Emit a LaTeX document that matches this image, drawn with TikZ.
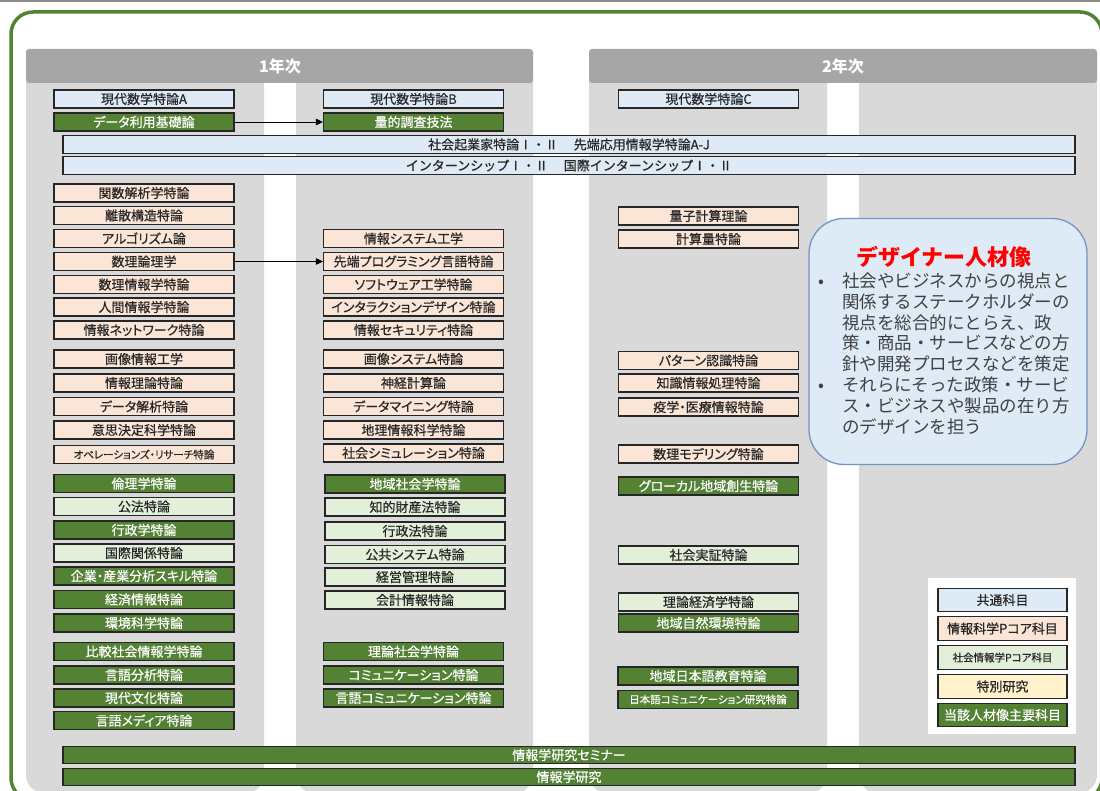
\documentclass[tikz,border=0pt]{standalone}
\usepackage{fontspec}
\setmainfont{Noto Sans CJK JP}[CharacterWidth=AlternateProportional]
\newfontfamily\boxfont{Noto Sans CJK JP}[CharacterWidth=AlternateProportional, FakeBold=0.5]
\newfontfamily\monojp{Noto Sans CJK JP}
\newfontfamily\monobox{Noto Sans CJK JP}[FakeBold=0.5]
\usetikzlibrary{arrows.meta}
\definecolor{cblue}{HTML}{DEEBF7}
\definecolor{cpeach}{HTML}{FBE5D6}
\definecolor{cgreenl}{HTML}{E2F0D9}
\definecolor{cyellow}{HTML}{FFF2CC}
\definecolor{cgreen}{HTML}{548235}
\definecolor{cpanel}{HTML}{D9D9D9}
\definecolor{chead}{HTML}{A6A6A6}
\definecolor{cline}{HTML}{262626}
\definecolor{ctext}{HTML}{262626}
\definecolor{cdes}{HTML}{DEEBF7}
\definecolor{cdesb}{HTML}{7394C4}
\definecolor{cdtext}{HTML}{404040}
\tikzset{
  boxbase/.style={draw=cline, line width=1.1pt, minimum width=180pt, minimum height=18pt,
    inner sep=0pt, text=ctext, font=\boxfont\fontsize{13}{15}\selectfont},
  boxA/.style={boxbase, fill=cblue},
  boxI/.style={boxbase, fill=cpeach},
  boxS/.style={boxbase, fill=cgreenl},
  boxY/.style={boxbase, fill=cyellow},
  boxM/.style={boxbase, fill=cgreen, text=white},
  smalltxt/.style={font=\boxfont\fontsize{10.5}{12}\selectfont},
  barbox/.style={minimum width=1012pt, minimum height=17.5pt},
  monobar/.style={font=\monobox\fontsize{13}{15}\selectfont},
  legbox/.style={minimum width=129pt, minimum height=23.5pt},
  headtxt/.style={text=white, font=\fontsize{16}{18}\selectfont\bfseries},
  desline/.style={anchor=base west, inner sep=0pt, text=cdtext, font=\monojp\fontsize{17.5}{20}\selectfont},
  arr/.style={-{Triangle[length=7pt,width=6.5pt]}, line width=0.9pt, draw=black}
}
\begin{document}
\begin{tikzpicture}[x=1pt,y=-1pt]
\useasboundingbox (0,0) rectangle (1100,791);
\fill[white] (0,0) rectangle (1100,791);
\fill[gray!90] (0,0) rectangle (1100,2.5);
% panels
\fill[cpanel, rounded corners=18pt] (26,60) rectangle (264,793);
\fill[cpanel, rounded corners=18pt] (296,60) rectangle (533,793);
\fill[cpanel, rounded corners=18pt] (589,60) rectangle (827,793);
\fill[cpanel, rounded corners=18pt] (859,60) rectangle (1097,793);
\fill[chead, rounded corners=3pt] (26,49) rectangle (533,83);
\fill[chead, rounded corners=3pt] (589,49) rectangle (1097,83);
\node[headtxt] (h1) at (280,66) {1年次};
\node[headtxt] (h2) at (843,66) {2年次};
% frame
\draw[cgreen, line width=3.5pt, rounded corners=22pt] (11,12) rectangle (1102,800);

% column 1
\node[boxA] (a1) at (144,99) {現代数学特論A};
\node[boxM] (d1) at (144,122) {データ利用基礎論};
\node[boxI] (i1) at (144,193) {関数解析学特論};
\node[boxI] (i2) at (144,215.5) {離散構造特論};
\node[boxI] (i3) at (144,238.5) {アルゴリズム論};
\node[boxI] (s1) at (144,261.5) {数理論理学};
\node[boxI] (i5) at (144,284.5) {数理情報学特論};
\node[boxI] (i6) at (144,307) {人間情報学特論};
\node[boxI] (i7) at (144,330) {情報ネットワーク特論};
\node[boxI] (i8) at (144,359) {画像情報工学};
\node[boxI] (i9) at (144,383) {情報理論特論};
\node[boxI] (i10) at (144,406.5) {データ解析特論};
\node[boxI] (i11) at (144,430) {意思決定科学特論};
\node[boxI, smalltxt] (i12) at (144,454.5) {オペレーションズ・リサーチ特論};
\node[boxM] (m1) at (144,483.5) {倫理学特論};
\node[boxS] (m2) at (144,506.5) {公法特論};
\node[boxM] (m3) at (144,530) {行政学特論};
\node[boxS] (m4) at (144,553) {国際関係特論};
\node[boxM] (m5) at (144,576) {企業・産業分析スキル特論};
\node[boxM] (m6) at (144,599.5) {経済情報特論};
\node[boxM] (m7) at (144,623) {環境科学特論};
\node[boxM] (m8) at (144,651.5) {比較社会情報学特論};
\node[boxM] (m9) at (144,675) {言語分析特論};
\node[boxM] (m10) at (144,698) {現代文化特論};
\node[boxM] (m11) at (144,720.5) {言語メディア特論};

% column 2
\node[boxA] (b1) at (413.5,99) {現代数学特論B};
\node[boxM] (q1) at (413.5,122) {量的調査技法};
\node[boxI] (j1) at (413.5,238.5) {情報システム工学};
\node[boxI] (s2) at (413.5,261.5) {先端プログラミング言語特論};
\node[boxI] (j3) at (413.5,284.5) {ソフトウェア工学特論};
\node[boxI] (j4) at (413.5,307) {インタラクションデザイン特論};
\node[boxI] (j5) at (413.5,330) {情報セキュリティ特論};
\node[boxI] (j6) at (413.5,359) {画像システム特論};
\node[boxI] (j7) at (413.5,383) {神経計算論};
\node[boxI] (j8) at (413.5,406.5) {データマイニング特論};
\node[boxI] (j9) at (413.5,430) {地理情報科学特論};
\node[boxI] (j10) at (413.5,453) {社会シミュレーション特論};
\node[boxM] (n1) at (415,484) {地域社会学特論};
\node[boxS] (n2) at (415,507) {知的財産法特論};
\node[boxS] (n3) at (415,531) {行政法特論};
\node[boxS] (n4) at (415,554.5) {公共システム特論};
\node[boxS] (n5) at (415,577) {経営管理特論};
\node[boxS] (n6) at (415,600) {会計情報特論};
\node[boxM] (n7) at (413.5,651.5) {理論社会学特論};
\node[boxM] (n8) at (413.5,675) {コミュニケーション特論};
\node[boxM] (n9) at (413.5,698) {言語コミュニケーション特論};

% column 3
\node[boxA] (c1) at (708.5,99) {現代数学特論C};
\node[boxI] (k1) at (708.5,216) {量子計算理論};
\node[boxI] (k2) at (708.5,239) {計算量特論};
\node[boxI] (k3) at (708.5,360.5) {パターン認識特論};
\node[boxI] (k4) at (708.5,383) {知識情報処理特論};
\node[boxI] (k5) at (708.5,407) {疫学・医療情報特論};
\node[boxI] (k6) at (708.5,454) {数理モデリング特論};
\node[boxM] (p1) at (708.5,486) {グローカル地域創生特論};
\node[boxS] (p2) at (708.5,555) {社会実証特論};
\node[boxS] (p3) at (708.5,602) {理論経済学特論};
\node[boxM] (p4) at (708.5,623) {地域自然環境特論};
\node[boxM] (p5) at (708,676) {地域日本語教育特論};
\node[boxM, smalltxt] (p6) at (708,699.5) {日本語コミュニケーション研究特論};

% wide bars
\node[boxA, barbox, monobar] (w1) at (569,144.5) {社会起業家特論Ⅰ・Ⅱ\hspace{1.2em}先端応用情報学特論A-J};
\node[boxA, barbox, monobar] (w2) at (569,165.5) {インターンシップⅠ・Ⅱ\hspace{1.2em}国際インターンシップⅠ・Ⅱ};
\node[boxM, barbox] (w3) at (569,755) {情報学研究セミナー};
\node[boxM, barbox] (w4) at (569,777) {情報学研究};

% arrows
\draw[arr] (d1.east) -- (q1.west);
\draw[arr] (s1.east) -- (s2.west);

% designer box
\node[draw=cdesb, fill=cdes, line width=1.3pt, rounded corners=35pt,
      minimum width=278pt, minimum height=246pt, inner sep=0pt] (des) at (948,341.5) {};
\node[text=red, font=\monojp\fontsize{22}{24}\selectfont\bfseries, inner sep=0pt] (dtitle) at (944,257) {デザイナー人材像};
\node[desline] (bul1) at (818,287.3) {•};
\node[desline] (bul2) at (818,391.6) {•};
\foreach \t [count=\i] in {社会やビジネスからの視点と,関係するステークホルダーの,視点を総合的にとらえ、政,策・商品・サービスなどの方,針や開発プロセスなどを策定,それらにそった政策・サービ,ス・ビジネスや製品の在り方,のデザインを担う}
  \node[desline] (dl\i) at (842,{287.3+20.86*(\i-1)}) {\t};

% legend
\fill[white] (928,578) rectangle (1076,734);
\node[boxA, legbox] (l1) at (1002.5,600) {共通科目};
\node[boxI, legbox] (l2) at (1002.5,628.5) {情報科学Pコア科目};
\node[boxS, legbox, font=\boxfont\fontsize{10.5}{12}\selectfont] (l3) at (1002.5,657.5) {社会情報学Pコア科目};
\node[boxY, legbox] (l4) at (1002.5,686.5) {特別研究};
\node[boxM, legbox] (l5) at (1002.5,715) {当該人材像主要科目};
\end{tikzpicture}
\end{document}
